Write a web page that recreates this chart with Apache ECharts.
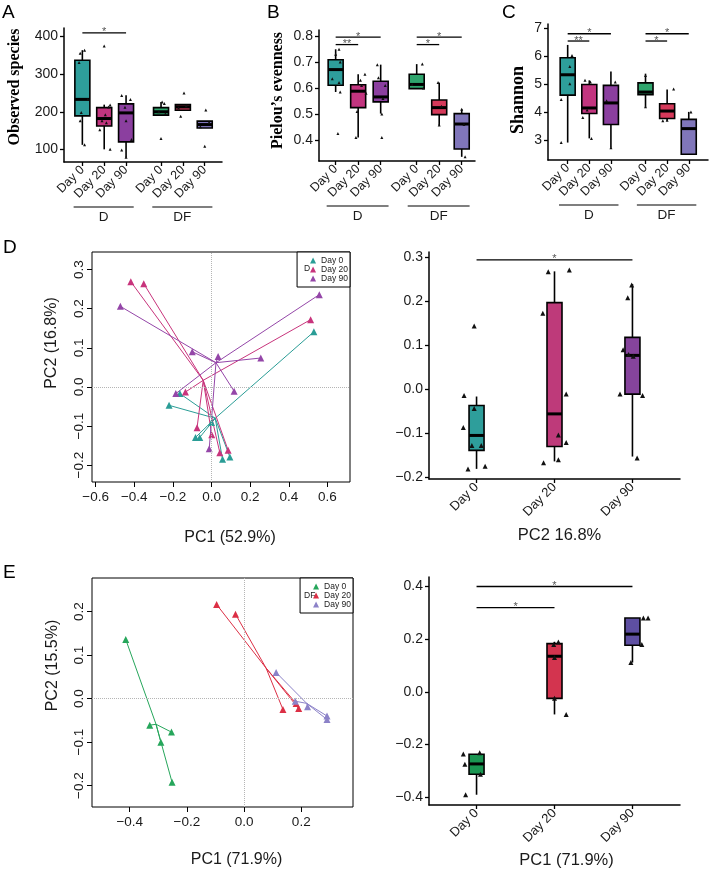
<!DOCTYPE html>
<html>
<head>
<meta charset="utf-8">
<title>Diversity</title>
<script src="https://cdn.jsdelivr.net/npm/echarts@6.0.0/dist/echarts.min.js"></script>
<style>
  html, body { margin: 0; padding: 0; background: #fff; }
  #chart { width: 709px; height: 870px; }
</style>
</head>
<body>
<div id="chart"></div>
<script>
// ---------- A-C: alpha diversity, groups D and DF ----------
const alphaPos = [1, 2, 3, 4.6, 5.6, 6.6]
const alphaLabels = ['Day 0', 'Day 20', 'Day 90', 'Day 0', 'Day 20', 'Day 90']
const alphaColors = ['#2e9e9b', '#c2357f', '#8b3f9f', '#2fa56d', '#d5395a', '#8076ba']
const alphaGroups = [['D', 0, 2], ['DF', 3, 5]]

// box stats: [min, Q1, median, Q3, max]
const observedBox = [
  [112, 189, 233, 337, 364],
  [100, 162, 182, 211, 219],
  [78, 120, 197, 221, 244],
  [191, 191, 200, 211, 226],
  [204, 204, 213, 219, 219],
  [157, 157, 166, 175, 175]
]
const observedPts = [
  [364, 356, 331, 233, 198, 176, 112],
  [375, 218, 213, 192, 176, 171, 152, 100],
  [243, 233, 212, 176, 126, 98, 79],
  [226, 222, 200, 195, 129],
  [250, 216, 210, 188],
  [205, 172, 160, 108]
]
const observedJitter = [
  [0.1, -0.1, -0.15, 0.25, -0.05, -0.1, 0.1],
  [0, 0.27, 0.2, 0.05, -0.1, 0.1, -0.2, 0.27],
  [-0.2, 0.2, -0.05, 0, 0.25, -0.2, 0],
  [0.05, 0.15, -0.1, 0.2, 0],
  [0.05, 0.15, -0.2, -0.1],
  [0.05, 0.2, -0.2, 0]
]
const observedSig = [[1, 3, 410, '*']]
const observedTicks = [100, 200, 300, 400]

const pielouBox = [
  [0.585, 0.611, 0.671, 0.709, 0.749],
  [0.41, 0.525, 0.588, 0.613, 0.653],
  [0.502, 0.547, 0.566, 0.626, 0.69],
  [0.598, 0.598, 0.614, 0.653, 0.692],
  [0.458, 0.498, 0.525, 0.554, 0.621],
  [0.336, 0.366, 0.462, 0.502, 0.519]
]
const pielouPts = [
  [0.749, 0.73, 0.70, 0.636, 0.621, 0.585, 0.426],
  [0.653, 0.63, 0.61, 0.58, 0.51, 0.41],
  [0.69, 0.64, 0.61, 0.56, 0.50, 0.41],
  [0.692, 0.614, 0.60],
  [0.621, 0.53, 0.458],
  [0.519, 0.46, 0.336]
]
const pielouJitter = [
  [0.15, 0, 0.2, -0.15, 0.15, 0.2, 0.1],
  [0.3, 0.1, 0.15, 0.35, -0.05, -0.1],
  [-0.15, -0.1, 0.2, 0.1, 0.05, 0.05],
  [0.25, -0.2, 0.3],
  [-0.05, 0.1, 0],
  [0, 0.1, 0.15]
]
const pielouSig = [[1, 3, 0.796, '*'], [1, 2, 0.767, '**'], [4.6, 6.6, 0.796, '*'], [4.6, 5.6, 0.767, '*']]
const pielouTicks = [0.4, 0.5, 0.6, 0.7, 0.8]

const shannonBox = [
  [2.9, 4.6, 5.33, 5.94, 6.4],
  [3.05, 3.94, 4.14, 4.98, 5.13],
  [2.71, 3.55, 4.32, 4.95, 5.45],
  [4.18, 4.62, 4.71, 5.04, 5.37],
  [3.68, 3.76, 4.03, 4.29, 4.8],
  [2.48, 2.48, 3.4, 3.73, 4.0]
]
const shannonPts = [
  [6.02, 5.63, 5.01, 4.44, 2.9],
  [5.13, 5.07, 4.07, 3.8, 3.05],
  [5.07, 4.4, 2.71],
  [5.3, 4.18],
  [4.82, 3.68, 3.7],
  [4.0]
]
const shannonJitter = [
  [0.2, 0.1, 0.1, -0.3, -0.3],
  [-0.2, 0.05, -0.1, -0.3, 0.1],
  [0.2, -0.2, 0],
  [0, 0],
  [0.3, -0.2, 0],
  [0.1]
]
const shannonSig = [[1, 3, 6.8, '*'], [1, 2, 6.54, '**'], [4.6, 6.6, 6.8, '*'], [4.6, 5.6, 6.54, '*']]
const shannonTicks = [3, 4, 5, 6, 7]

// ---------- D / E: PCoA with centroid spiders ----------
const dayNames = ['Day 0', 'Day 20', 'Day 90']

const pcaD = [
  [[0.530, 0.141], [-0.220, -0.047], [-0.164, -0.017], [-0.083, -0.129], [-0.061, -0.129], [0.0, -0.091], [0.057, -0.185], [0.095, -0.179]],
  [[-0.418, 0.269], [-0.351, 0.264], [0.513, 0.172], [-0.135, -0.013], [-0.075, -0.104], [0.001, -0.122], [0.043, -0.168], [0.086, -0.162]],
  [[-0.472, 0.206], [0.558, 0.236], [-0.100, 0.090], [0.034, 0.078], [0.255, 0.074], [-0.185, -0.017], [0.117, -0.011], [-0.012, -0.158]]
]
const pcaDCentroids = [[0.019, -0.080], [-0.043, 0.017], [0.023, 0.062]]
const pcaDColors = ['#2a9d96', '#c8347c', '#9446a8']
const pcaDTicksX = [-0.6, -0.4, -0.2, 0, 0.2, 0.4, 0.6]
const pcaDTicksY = [-0.2, -0.1, 0, 0.1, 0.2, 0.3]

const pcaE = [
  [[-0.414, 0.136], [-0.330, -0.061], [-0.291, -0.100], [-0.252, -0.192], [-0.254, -0.077]],
  [[-0.096, 0.216], [-0.030, 0.194], [0.136, -0.025], [0.182, -0.011], [0.191, -0.023]],
  [[0.112, 0.060], [0.179, -0.006], [0.222, -0.019], [0.290, -0.040], [0.290, -0.048]]
]
const pcaECentroids = [[-0.308, -0.059], [0.077, 0.070], [0.219, -0.011]]
const pcaEColors = ['#26a65b', '#dc2f45', '#8c82c8']
const pcaETicksX = [-0.4, -0.2, 0, 0.2]
const pcaETicksY = [-0.2, -0.1, 0, 0.1, 0.2]

// D right: PC2 by day
const dayPos = [1, 2, 3]
const dBoxColors = ['#2e9e9b', '#be3a7a', '#86449c']
const dBoxStats = [
  [-0.182, -0.14, -0.106, -0.038, -0.0175],
  [-0.165, -0.131, -0.057, 0.196, 0.267],
  [-0.154, -0.012, 0.076, 0.117, 0.238]
]
const dBoxPts = [
  [0.143, -0.015, -0.045, -0.088, -0.129, -0.129, -0.182, -0.176],
  [0.266, 0.27, 0.172, -0.012, -0.105, -0.122, -0.168, -0.161],
  [0.236, 0.207, 0.089, 0.078, 0.074, -0.012, -0.015, -0.157]
]
const dBoxJitter = [
  [-0.03, -0.16, -0.03, -0.17, -0.06, 0.06, -0.11, 0.11],
  [-0.08, 0.19, -0.15, 0.15, 0.05, 0.15, -0.14, 0.05],
  [-0.01, -0.06, -0.12, -0.05, 0.01, -0.16, 0.13, 0.06]
]
const dBoxSig = [[1, 3, 0.293, '*']]
const dBoxTicks = [-0.2, -0.1, 0, 0.1, 0.2, 0.3]

// E right: PC1 by day
const eBoxColors = ['#1a9652', '#d3344f', '#5e4fa2']
const eBoxStats = [
  [-0.391, -0.313, -0.274, -0.237, -0.237],
  [-0.086, -0.025, 0.135, 0.183, 0.19],
  [0.111, 0.177, 0.219, 0.28, 0.28]
]
const eBoxPts = [
  [-0.236, -0.275, -0.232, -0.391, -0.313],
  [0.189, 0.18, 0.13, -0.025, -0.086],
  [0.28, 0.28, 0.18, 0.111]
]
const eBoxJitter = [
  [-0.17, -0.15, 0.04, -0.14, 0.05],
  [0.05, -0.01, 0, 0, 0.15],
  [0.14, 0.2, 0.12, -0.02]
]
const eBoxSig = [[1, 3, 0.4, '*'], [1, 2, 0.32, '*']]
const eBoxTicks = [-0.4, -0.2, 0, 0.2, 0.4]

// ---------- helpers ----------
const FONT = '"Liberation Sans", Arial, sans-serif'
const SERIF = '"Liberation Serif", "Times New Roman", serif'
const INK = '#1a1a1a'
const fmtMinus = v => v.toFixed(1).replace('-', '\u2212')

const renderBox = (params, api) => {
  const x = api.value(0)
  const lo = api.coord([x, api.value(1)])
  const q1 = api.coord([x, api.value(2)])
  const md = api.coord([x, api.value(3)])
  const q3 = api.coord([x, api.value(4)])
  const hi = api.coord([x, api.value(5)])
  const w = 7.5
  const stroke = { stroke: '#000', lineWidth: 1.6 }
  return {
    type: 'group',
    children: [
      { type: 'line', shape: { x1: lo[0], y1: lo[1], x2: q1[0], y2: q1[1] }, style: stroke },
      { type: 'line', shape: { x1: q3[0], y1: q3[1], x2: hi[0], y2: hi[1] }, style: stroke },
      { type: 'rect', shape: { x: q1[0] - w, y: q3[1], width: 2 * w, height: q1[1] - q3[1] },
        style: { fill: api.visual('color'), stroke: '#000', lineWidth: 1.6 } },
      { type: 'line', shape: { x1: md[0] - w, y1: md[1], x2: md[0] + w, y2: md[1] },
        style: { stroke: '#000', lineWidth: 3 } }
    ]
  }
}

const sigSeries = (idx, list) => ({
  type: 'custom', xAxisIndex: idx, yAxisIndex: idx, silent: true, z: 4,
  encode: { x: [0, 1], y: 2 },
  data: list.map(s => [s[0], s[1], s[2]]),
  renderItem: (params, api) => {
    const a = api.coord([api.value(0), api.value(2)])
    const b = api.coord([api.value(1), api.value(2)])
    return {
      type: 'group',
      children: [
        { type: 'line', shape: { x1: a[0], y1: a[1], x2: b[0], y2: b[1] }, style: { stroke: '#000', lineWidth: 1.3 } },
        { type: 'text', x: (a[0] + b[0]) / 2, y: a[1] + 5,
          style: { text: list[params.dataIndex][3], fill: '#555', fontSize: 11, fontFamily: FONT, align: 'center', verticalAlign: 'bottom' } }
      ]
    }
  }
})

const groupSeries = (idx, pos, groups) => ({
  type: 'custom', xAxisIndex: idx, yAxisIndex: idx, silent: true,
  encode: { x: [0, 1] },
  data: groups.map(g => [pos[g[1]] - 0.4, pos[g[2]] + 0.35]),
  renderItem: (params, api) => {
    const cs = params.coordSys
    const y = cs.y + cs.height + 45
    const x1 = api.coord([api.value(0), 0])[0]
    const x2 = api.coord([api.value(1), 0])[0]
    return {
      type: 'group',
      children: [
        { type: 'line', shape: { x1, y1: y, x2, y2: y }, style: { stroke: '#000', lineWidth: 1.2 } },
        { type: 'text', x: (x1 + x2) / 2, y: y + 3,
          style: { text: groups[params.dataIndex][0], fill: INK, fontSize: 13.5, fontFamily: FONT, align: 'center', verticalAlign: 'top' } }
      ]
    }
  }
})

const series = []

const addBoxPanel = (idx, pos, colors, box, pts, jit, sig, triSize) => {
  series.push({
    type: 'custom', xAxisIndex: idx, yAxisIndex: idx, silent: true, z: 2,
    encode: { x: 0, y: [1, 2, 3, 4, 5] },
    data: box.map((b, i) => ({ value: [pos[i], ...b], itemStyle: { color: colors[i] } })),
    renderItem: renderBox
  })
  series.push({
    type: 'scatter', xAxisIndex: idx, yAxisIndex: idx, silent: true, z: 3,
    symbol: 'triangle', symbolSize: triSize,
    itemStyle: { color: '#111', opacity: 1 },
    data: pts.flatMap((vals, i) => vals.map((v, j) => [pos[i] + jit[i][j], v]))
  })
  series.push(sigSeries(idx, sig))
}

const addSpider = (idx, pts, centroids, colors) => {
  pts.forEach((group, i) => {
    series.push({
      type: 'lines', coordinateSystem: 'cartesian2d', xAxisIndex: idx, yAxisIndex: idx,
      silent: true, z: 2,
      lineStyle: { color: colors[i], width: 1, opacity: 1 },
      data: group.map(p => ({ coords: [centroids[i], p] }))
    })
    series.push({
      type: 'scatter', name: dayNames[i], xAxisIndex: idx, yAxisIndex: idx, silent: true, z: 3,
      symbol: 'triangle', symbolSize: 7,
      itemStyle: { color: colors[i], opacity: 1 },
      data: group,
      markLine: i === 0 ? {
        silent: true, symbol: 'none', label: { show: false },
        lineStyle: { type: 'dotted', color: '#b5b5b5', width: 1 },
        data: [{ xAxis: 0 }, { yAxis: 0 }]
      } : undefined
    })
  })
}

addBoxPanel(0, alphaPos, alphaColors, observedBox, observedPts, observedJitter, observedSig, 3)
addBoxPanel(1, alphaPos, alphaColors, pielouBox, pielouPts, pielouJitter, pielouSig, 3)
addBoxPanel(2, alphaPos, alphaColors, shannonBox, shannonPts, shannonJitter, shannonSig, 3)
series.push(groupSeries(0, alphaPos, alphaGroups))
series.push(groupSeries(1, alphaPos, alphaGroups))
series.push(groupSeries(2, alphaPos, alphaGroups))
addSpider(3, pcaD, pcaDCentroids, pcaDColors)
addBoxPanel(4, dayPos, dBoxColors, dBoxStats, dBoxPts, dBoxJitter, dBoxSig, 5)
addSpider(5, pcaE, pcaECentroids, pcaEColors)
addBoxPanel(6, dayPos, eBoxColors, eBoxStats, eBoxPts, eBoxJitter, eBoxSig, 5)

// ---------- axes ----------
const boxX = (gridIndex, min, max, pos, labels, extra) => Object.assign({
  gridIndex, type: 'value', min, max,
  axisLine: { show: true, onZero: false, lineStyle: { color: '#000', width: 1.5 } },
  axisTick: { show: true, customValues: pos, length: 4, lineStyle: { color: '#000', width: 1.3 } },
  axisLabel: { customValues: pos, rotate: 45, margin: 6, fontSize: 12.5, color: INK, fontFamily: FONT,
    formatter: v => labels[pos.indexOf(v)] },
  splitLine: { show: false }
}, extra)

const boxY = (gridIndex, min, max, ticks, fmt, extra) => Object.assign({
  gridIndex, type: 'value', min, max,
  axisLine: { show: true, onZero: false, lineStyle: { color: '#000', width: 1.5 } },
  axisTick: { show: true, customValues: ticks, length: 4, lineStyle: { color: '#000', width: 1.3 } },
  axisLabel: { customValues: ticks, formatter: fmt, fontSize: 14, margin: 6, color: INK, fontFamily: FONT },
  splitLine: { show: false }
}, extra)

const pcaAx = (gridIndex, min, max, ticks, rotate, extra) => Object.assign({
  gridIndex, type: 'value', min, max,
  axisLine: { show: false, onZero: false },
  axisTick: { show: true, customValues: ticks, length: 5, lineStyle: { color: '#000', width: 1 } },
  axisLabel: { customValues: ticks, formatter: fmtMinus, fontSize: 13.5, margin: rotate ? 6 : 8, rotate, color: INK, fontFamily: FONT },
  splitLine: { show: false }
}, extra)

// padding on the left moves a centred name along its own baseline
const serifName = (size, pad) => ({ fontFamily: SERIF, fontWeight: 'bold', fontSize: size, color: '#000', padding: pad })
const sansName = (size, shift) => ({ fontFamily: FONT, fontSize: size, color: INK, padding: [0, 0, 0, shift] })

const xAxes = [
  boxX(0, 0.16, 7.39, alphaPos, alphaLabels),
  boxX(1, 0.26, 7.19, alphaPos, alphaLabels),
  boxX(2, 0.09, 7.49, alphaPos, alphaLabels),
  pcaAx(3, -0.619, 0.717, pcaDTicksX, 0,
    { name: 'PC1 (52.9%)', nameLocation: 'middle', nameGap: 48, nameTextStyle: sansName(16, 18) }),
  boxX(4, 0.39, 3.61, dayPos, dayNames,
    { name: 'PC2 16.8%', nameLocation: 'middle', nameGap: 48, nameTextStyle: sansName(16.5, 10) }),
  pcaAx(5, -0.532, 0.381, pcaETicksX, 0,
    { name: 'PC1 (71.9%)', nameLocation: 'middle', nameGap: 45, nameTextStyle: sansName(16, 28) }),
  boxX(6, 0.39, 3.61, dayPos, dayNames,
    { name: 'PC1 (71.9%)', nameLocation: 'middle', nameGap: 47, nameTextStyle: sansName(16.5, 24) })
]
xAxes[4].axisLabel.fontSize = 13
xAxes[6].axisLabel.fontSize = 13

const yAxes = [
  boxY(0, 66.3, 423, observedTicks, v => String(v),
    { name: 'Observed species', nameLocation: 'middle', nameGap: 41, nameTextStyle: serifName(16, [0, 0, 0, 16]) }),
  boxY(1, 0.32, 0.823, pielouTicks, v => v.toFixed(1),
    { name: 'Pielou\u2019s evenness', nameLocation: 'middle', nameGap: 33, nameTextStyle: serifName(16, [0, 0, 0, 10]) }),
  boxY(2, 2.275, 7.15, shannonTicks, v => String(v),
    { name: 'Shannon', nameLocation: 'middle', nameGap: 21, nameTextStyle: serifName(18, [0, 16, 0, 0]) }),
  pcaAx(3, -0.243, 0.345, pcaDTicksY, 90,
    { name: 'PC2 (16.8%)', nameLocation: 'middle', nameGap: 32, nameTextStyle: sansName(16, 48) }),
  boxY(4, -0.205, 0.311, dBoxTicks, fmtMinus),
  pcaAx(5, -0.249, 0.277, pcaETicksY, 90,
    { name: 'PC2 (15.5%)', nameLocation: 'middle', nameGap: 31, nameTextStyle: sansName(16, 54) }),
  boxY(6, -0.43, 0.436, eBoxTicks, fmtMinus)
]

const frame = { show: true, borderColor: '#000', borderWidth: 1, backgroundColor: 'transparent' }
const grids = [
  { left: 64, top: 28, width: 158, height: 134 },
  { left: 319, top: 30, width: 156, height: 131 },
  { left: 548, top: 24, width: 160, height: 136 },
  Object.assign({ left: 92, top: 252, width: 258, height: 230 }, frame),
  { left: 429, top: 252, width: 251, height: 227 },
  Object.assign({ left: 92, top: 578, width: 261, height: 229 }, frame),
  { left: 429, top: 577, width: 251, height: 228 }
].map(g => Object.assign({ containLabel: false, outerBoundsMode: 'none' }, g))

const legendBase = {
  orient: 'vertical', selectedMode: false, icon: 'triangle',
  itemWidth: 6, itemHeight: 6, itemGap: 0,
  padding: [4, 2, 4, 13],
  borderColor: '#000', borderWidth: 1, backgroundColor: '#fff',
  textStyle: { fontSize: 8.5, lineHeight: 9, color: '#222', fontFamily: FONT }
}
const legends = [
  Object.assign({}, legendBase, { right: 359, top: 252,
    data: dayNames.map((n, i) => ({ name: n, itemStyle: { color: pcaDColors[i] } })) }),
  Object.assign({}, legendBase, { right: 356, top: 578,
    data: dayNames.map((n, i) => ({ name: n, itemStyle: { color: pcaEColors[i] } })) })
]

const letter = (t, left, top) => ({ type: 'text', left, top, style: { text: t, fontSize: 19, fill: '#000', fontFamily: FONT } })
const small = (t, left, top) => ({ type: 'text', left, top, z: 100, style: { text: t, fontSize: 8.5, fill: '#222', fontFamily: FONT } })

const chart = echarts.init(document.getElementById('chart'), null, { renderer: 'canvas' })
chart.setOption({
  animation: false,
  backgroundColor: '#fff',
  textStyle: { fontFamily: FONT },
  grid: grids,
  xAxis: xAxes,
  yAxis: yAxes,
  legend: legends,
  graphic: [
    letter('A', 2, 3), letter('B', 267, 3), letter('C', 502, 3),
    letter('D', 3, 238), letter('E', 3, 563),
    small('D', 304, 264), small('DF', 304, 591)
  ],
  series
})
</script>
</body>
</html>
